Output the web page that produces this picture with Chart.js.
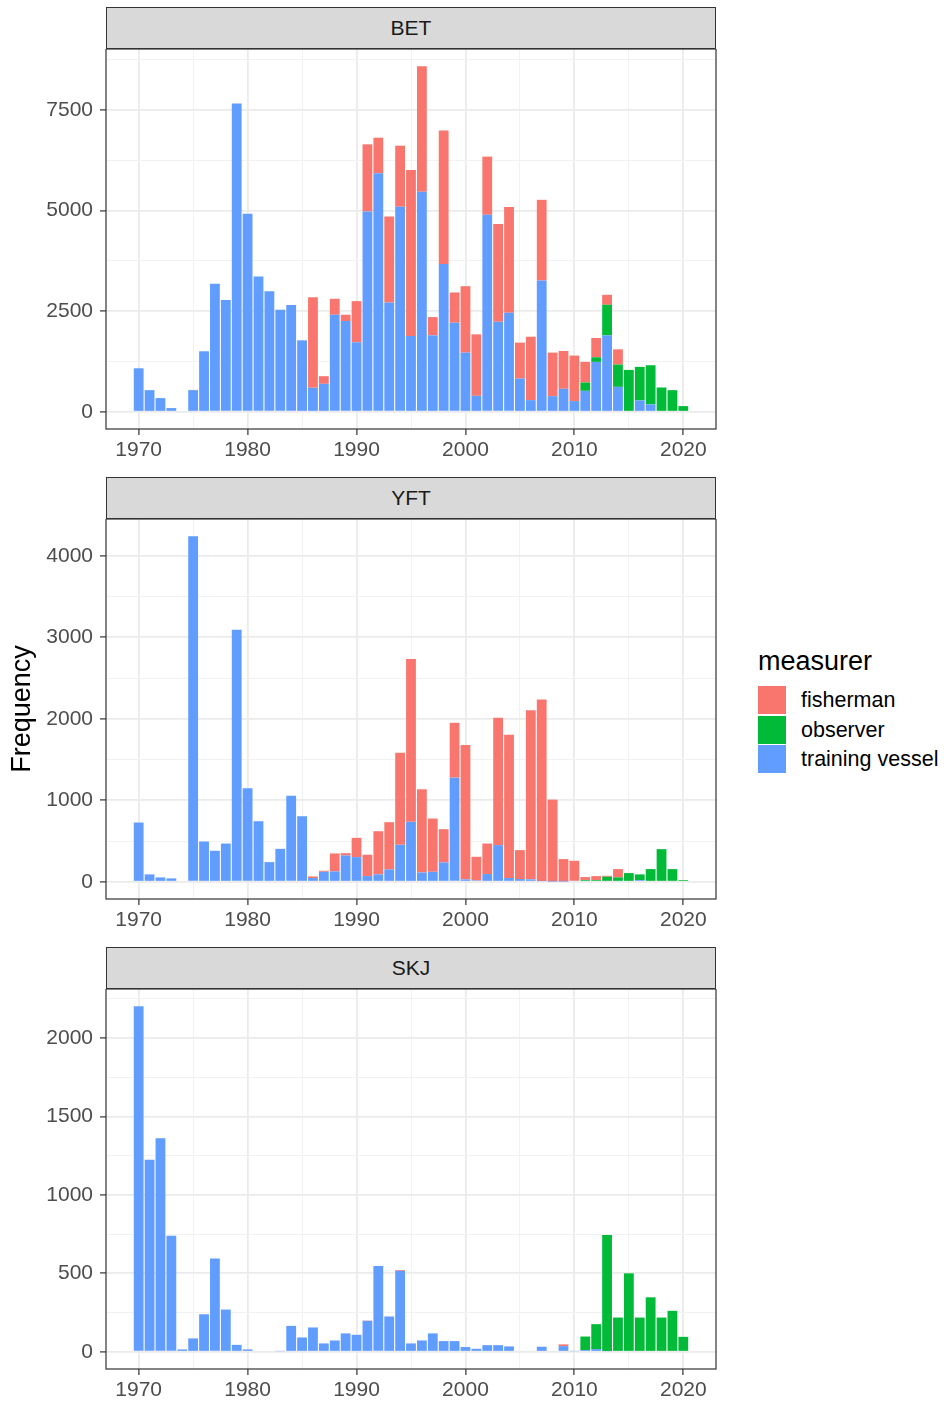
<!DOCTYPE html>
<html>
<head>
<meta charset="utf-8">
<script src="https://cdn.jsdelivr.net/npm/chart.js@4.4.1/dist/chart.umd.min.js"></script>
<style>
  body { margin: 0; background: #fff; font-family: "Liberation Sans", Arial, sans-serif; }
  #page { position: relative; width: 944px; height: 1403px; }
  .strip { position: absolute; left: 106px; width: 610px; height: 42px; box-sizing: border-box;
           background: #D9D9D9; border: 1.2px solid #333333; color: #1A1A1A; font-size: 21px;
           line-height: 40px; text-align: center; }
  canvas { position: absolute; left: 0; }
  .ltitle { position: absolute; left: 758px; top: 645px; font-size: 27px; line-height: 32px; color: #000; }
  .lkey { position: absolute; left: 758px; width: 28px; height: 28px; }
  .llab { position: absolute; left: 801px; font-size: 21.5px; line-height: 28px; color: #000; }
</style>
</head>
<body>
<div id="page"></div>
<script>
// years on the x axis
const years = [1970, 1971, 1972, 1973, 1974, 1975, 1976, 1977, 1978, 1979,
               1980, 1981, 1982, 1983, 1984, 1985, 1986, 1987, 1988, 1989,
               1990, 1991, 1992, 1993, 1994, 1995, 1996, 1997, 1998, 1999,
               2000, 2001, 2002, 2003, 2004, 2005, 2006, 2007, 2008, 2009,
               2010, 2011, 2012, 2013, 2014, 2015, 2016, 2017, 2018, 2019, 2020];
const xTicks = [1970, 1980, 1990, 2000, 2010, 2020];
const xMinorTicks = [1975, 1985, 1995, 2005, 2015];

const seriesNames = ["fisherman", "observer", "training vessel"];
const seriesColors = ["#F8766D", "#00BA38", "#619CFF"];

// BET
const betTraining = [1080, 537, 339, 91, 0, 537, 1503, 3179, 2775, 7663,
                     4922, 3361, 2998, 2535, 2651, 1775, 595, 694, 2411, 2254,
                     1726, 4979, 5929, 2717, 5095, 1883, 5467, 1899, 3675, 2213,
                     1470, 396, 4897, 2238, 2461, 826, 289, 3262, 388, 570,
                     264, 520, 1239, 1899, 619, 0, 281, 182, 0, 0, 0];
const betObserver = [0, 0, 0, 0, 0, 0, 0, 0, 0, 0,
                     0, 0, 0, 0, 0, 0, 0, 0, 0, 0,
                     0, 0, 0, 0, 0, 0, 0, 0, 0, 0,
                     0, 0, 0, 0, 0, 0, 0, 0, 0, 0,
                     0, 207, 115, 760, 554, 1040, 834, 974, 603, 537, 140];
const betFisherman = [0, 0, 0, 0, 0, 5, 0, 0, 0, 0,
                      0, 0, 0, 0, 0, 0, 2254, 190, 397, 157,
                      1024, 1668, 883, 2138, 1519, 4129, 3121, 454, 3319, 752,
                      1651, 1528, 1445, 2428, 2626, 892, 1577, 2006, 1082, 941,
                      1132, 512, 479, 248, 379, 0, 0, 0, 0, 0, 0];
const betTicks = [0, 2500, 5000, 7500];
const betMinorTicks = [1250, 3750, 6250, 8750];

// YFT
const yftTraining = [727, 90, 53, 41, 0, 4241, 494, 380, 469, 3094,
                     1147, 743, 241, 404, 1057, 804, 45, 122, 127, 322,
                     302, 69, 90, 151, 453, 735, 114, 122, 237, 1278,
                     29, 16, 94, 449, 45, 33, 29, 8, 4, 4,
                     12, 12, 0, 0, 0, 0, 20, 0, 0, 0, 0];
const yftObserver = [0, 0, 0, 0, 0, 0, 0, 0, 0, 0,
                     0, 0, 0, 0, 0, 0, 0, 0, 0, 0,
                     0, 0, 0, 0, 0, 0, 0, 0, 0, 0,
                     0, 0, 0, 0, 0, 0, 0, 0, 0, 0,
                     0, 10, 20, 61, 53, 106, 70, 155, 400, 155, 20];
const yftFisherman = [0, 0, 0, 0, 0, 0, 0, 0, 0, 0,
                      0, 0, 0, 0, 0, 0, 20, 13, 220, 29,
                      237, 262, 530, 580, 1131, 2000, 1021, 654, 408, 673,
                      1649, 290, 375, 1563, 1759, 355, 2077, 2229, 1004, 274,
                      245, 35, 49, 12, 102, 0, 0, 0, 0, 0, 0];
const yftTicks = [0, 1000, 2000, 3000, 4000];
const yftMinorTicks = [500, 1500, 2500, 3500];

// SKJ
const skjTraining = [2203, 1225, 1362, 739, 15, 85, 239, 595, 269, 44,
                     15, 0, 0, 4, 165, 91, 155, 53, 72, 117,
                     108, 197, 547, 225, 516, 53, 72, 117, 68, 68,
                     30, 19, 42, 42, 34, 6, 6, 32, 6, 36,
                     4, 11, 17, 4, 0, 0, 0, 0, 0, 0, 0];
const skjObserver = [0, 0, 0, 0, 0, 0, 0, 0, 0, 0,
                     0, 0, 0, 0, 0, 0, 0, 0, 0, 0,
                     0, 0, 0, 0, 0, 0, 0, 0, 0, 0,
                     0, 0, 0, 0, 0, 0, 0, 0, 0, 0,
                     0, 86, 159, 740, 218, 500, 218, 347, 218, 261, 95];
const skjFisherman = [0, 0, 0, 0, 0, 0, 0, 0, 0, 0,
                      0, 0, 0, 0, 0, 0, 0, 0, 0, 0,
                      0, 2, 0, 0, 5, 0, 0, 0, 0, 0,
                      0, 0, 0, 0, 0, 0, 0, 0, 0, 11,
                      0, 0, 0, 0, 0, 0, 0, 0, 0, 0, 0];
const skjTicks = [0, 500, 1000, 1500, 2000];
const skjMinorTicks = [250, 750, 1250, 1750, 2250];

Chart.defaults.font.family = '"Liberation Sans", Arial, sans-serif';
Chart.defaults.font.size = 21;
Chart.defaults.color = "#4D4D4D";

const panelBorder = {
    id: "panelBorder",
    afterDraw(chart) {
        const a = chart.chartArea;
        const c = chart.ctx;
        c.save();
        c.strokeStyle = "#333333";
        c.lineWidth = 1.2;
        c.strokeRect(a.left, a.top, a.right - a.left, a.bottom - a.top);
        c.restore();
    }
};

const toPoints = (values) => years.map((yr, i) => ({ x: yr, y: values[i] }));

const gridFor = (major) => ({
    color: (ctx) => ctx.tick && major.includes(ctx.tick.value) ? "#EBEBEB" : "#F2F2F2",
    lineWidth: (ctx) => ctx.tick && major.includes(ctx.tick.value) ? 1.8 : 1,
    tickColor: (ctx) => ctx.tick && major.includes(ctx.tick.value) ? "#333333" : "rgba(0,0,0,0)",
    tickWidth: 1.2,
    tickLength: 6,
    offset: false
});

const makePanel = (index, name, training, observer, fisherman, yMin, yMax, major, minor) => {
    const page = document.getElementById("page");
    const top = 7 + index * 470;

    const strip = document.createElement("div");
    strip.className = "strip";
    strip.style.top = top + "px";
    strip.innerText = name;
    page.appendChild(strip);

    const canvas = document.createElement("canvas");
    canvas.width = 720;
    canvas.height = 420;
    canvas.style.top = (top + 42) + "px";
    page.appendChild(canvas);

    const data = {
        datasets: [
            { label: seriesNames[2], data: toPoints(training), backgroundColor: seriesColors[2] },
            { label: seriesNames[1], data: toPoints(observer), backgroundColor: seriesColors[1] },
            { label: seriesNames[0], data: toPoints(fisherman), backgroundColor: seriesColors[0] }
        ]
    };
    data.datasets.forEach(ds => {
        ds.barPercentage = 0.9;
        ds.categoryPercentage = 1.0;
        ds.borderWidth = 0;
    });

    new Chart(canvas.getContext("2d"), {
        type: "bar",
        data: data,
        plugins: [panelBorder],
        options: {
            responsive: false,
            animation: false,
            layout: { padding: { left: 0, right: 4, top: 0, bottom: 0 } },
            plugins: { legend: { display: false }, tooltip: { enabled: false } },
            scales: {
                x: {
                    type: "linear",
                    stacked: true,
                    offset: false,
                    min: 1967,
                    max: 2023,
                    border: { display: false },
                    grid: gridFor(xTicks),
                    afterBuildTicks: (axis) => {
                        axis.ticks = xTicks.concat(xMinorTicks).sort((a, b) => a - b).map(v => ({ value: v }));
                    },
                    afterFit: (axis) => {
                        axis.height = 40;
                        axis.paddingLeft = 0;
                        axis.paddingRight = 0;
                    },
                    ticks: {
                        autoSkip: false,
                        maxRotation: 0,
                        padding: 3,
                        callback: (v) => xTicks.includes(v) ? String(v) : ""
                    }
                },
                y: {
                    type: "linear",
                    stacked: true,
                    min: yMin,
                    max: yMax,
                    border: { display: false },
                    grid: gridFor(major),
                    afterBuildTicks: (axis) => {
                        axis.ticks = major.concat(minor).sort((a, b) => a - b).map(v => ({ value: v }));
                    },
                    afterFit: (axis) => {
                        axis.width = 106;
                        axis.paddingTop = 0;
                        axis.paddingBottom = 0;
                    },
                    title: {
                        display: index === 1,
                        text: "Frequency",
                        color: "#000000",
                        font: { size: 27 },
                        padding: { top: 6, bottom: 0 }
                    },
                    ticks: {
                        padding: 7,
                        callback: (v) => major.includes(v) ? String(v) : ""
                    }
                }
            }
        }
    });
};

makePanel(0, "BET", betTraining, betObserver, betFisherman, -429, 9017, betTicks, betMinorTicks);
makePanel(1, "YFT", yftTraining, yftObserver, yftFisherman, -212, 4453, yftTicks, yftMinorTicks);
makePanel(2, "SKJ", skjTraining, skjObserver, skjFisherman, -110, 2313, skjTicks, skjMinorTicks);

// shared legend
const page = document.getElementById("page");
const legendTitle = document.createElement("div");
legendTitle.className = "ltitle";
legendTitle.innerText = "measurer";
page.appendChild(legendTitle);
seriesNames.forEach((name, i) => {
    const key = document.createElement("div");
    key.className = "lkey";
    key.style.top = (686 + i * 29.5) + "px";
    key.style.background = seriesColors[i];
    page.appendChild(key);
    const lab = document.createElement("div");
    lab.className = "llab";
    lab.style.top = (686 + i * 29.5) + "px";
    lab.innerText = name;
    page.appendChild(lab);
});
</script>
</body>
</html>
